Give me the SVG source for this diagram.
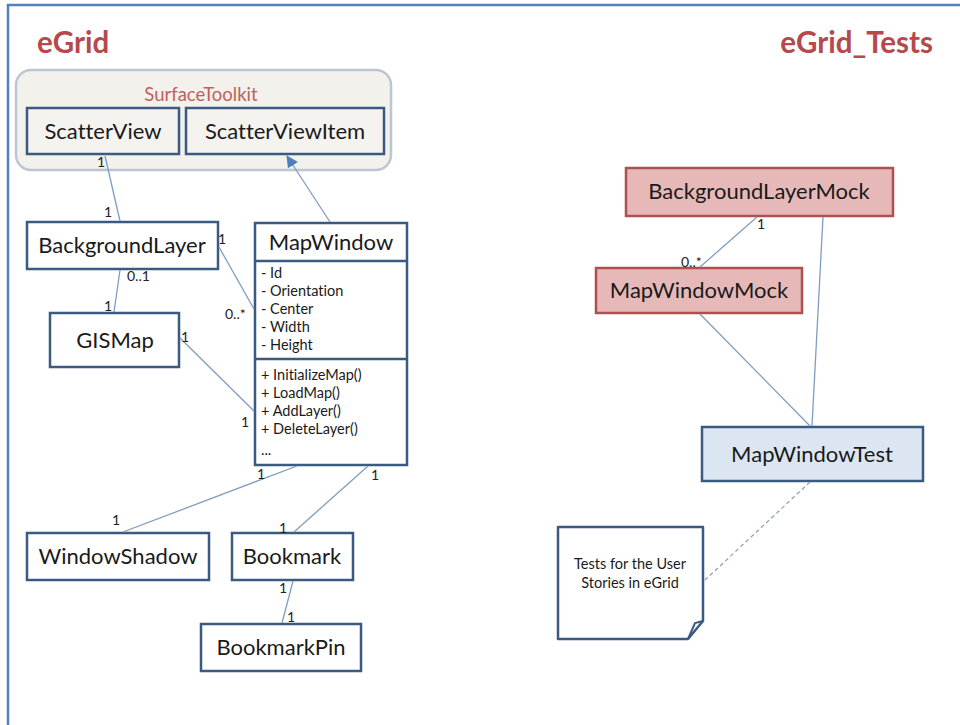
<svg xmlns="http://www.w3.org/2000/svg" width="960" height="725" viewBox="0 0 960 725">
  <defs>
    <style>
      text { font-family: Lato, "Open Sans", "Liberation Sans", sans-serif; fill: #1a1a1a; font-variant-ligatures: none; }
      .title { font-size: 29.5px; font-weight: bold; fill: #b5494b; }
      .pkg { font-size: 18.5px; fill: #c0605e; }
      .cls { fill: #ffffff; stroke: #3b5a80; stroke-width: 2.5; }
      .tk { fill: #f5f3ef; stroke: #3b5a80; stroke-width: 2.5; }
      .mock { fill: #e6b9b8; stroke: #b0504e; stroke-width: 2.5; }
      .test { fill: #dce6f2; stroke: #3b5a80; stroke-width: 2.5; }
      .name { font-size: 22px; text-anchor: middle; }
      .member { font-size: 14.5px; }
      .mult { font-size: 14px; fill: #222222; }
      .link { stroke: #7f9dc2; stroke-width: 1.3; fill: none; }
      .dash { stroke: #8fa3c0; stroke-width: 1.3; stroke-dasharray: 4 3; fill: none; }
    </style>
    <marker id="tri" viewBox="0 0 12 12" refX="11" refY="6" markerWidth="12" markerHeight="12" markerUnits="userSpaceOnUse" orient="auto">
      <path d="M0,0 L12,6 L0,12 Z" fill="#4f7fba"/>
    </marker>
  </defs>

  <rect width="960" height="725" fill="#ffffff"/>
  <!-- frame -->
  <path d="M8,725 V5 H960" fill="none" stroke="#4f81bd" stroke-width="2.5"/>

  <text class="title" x="37" y="53">eGrid</text>
  <text class="title" x="933" y="53" text-anchor="end">eGrid_Tests</text>

  <!-- SurfaceToolkit package -->
  <g id="SurfaceToolkit">
    <rect x="16" y="70" width="375" height="100" rx="15" fill="#f3f1ec" stroke="#bcc6d2" stroke-width="2.5"/>
    <text class="pkg" x="201" y="101" text-anchor="middle">SurfaceToolkit</text>
  </g>
  <g id="ScatterView">
    <rect class="tk" x="27" y="108" width="152" height="46"/>
    <text class="name" x="103" y="139">ScatterView</text>
  </g>
  <g id="ScatterViewItem">
    <rect class="tk" x="186" y="108" width="198" height="46"/>
    <text class="name" x="285" y="139">ScatterViewItem</text>
  </g>

  <g id="BackgroundLayer">
    <rect class="cls" x="27" y="222" width="191" height="47"/>
    <text class="name" x="122" y="253">BackgroundLayer</text>
  </g>

  <g id="MapWindow">
    <rect class="cls" x="255" y="223" width="152" height="242"/>
    <line x1="255" y1="261" x2="407" y2="261" stroke="#3b5a80" stroke-width="2.5"/>
    <line x1="255" y1="359" x2="407" y2="359" stroke="#3b5a80" stroke-width="2.5"/>
    <text class="name" x="331" y="250">MapWindow</text>
    <text class="member" x="261" y="278">- Id</text>
    <text class="member" x="261" y="296">- Orientation</text>
    <text class="member" x="261" y="314">- Center</text>
    <text class="member" x="261" y="332">- Width</text>
    <text class="member" x="261" y="350">- Height</text>
    <text class="member" x="261" y="380">+ InitializeMap()</text>
    <text class="member" x="261" y="398">+ LoadMap()</text>
    <text class="member" x="261" y="416">+ AddLayer()</text>
    <text class="member" x="261" y="434">+ DeleteLayer()</text>
    <text class="member" x="261" y="455">...</text>
  </g>

  <g id="GISMap">
    <rect class="cls" x="50" y="313" width="129" height="54"/>
    <text class="name" x="115" y="348">GISMap</text>
  </g>

  <g id="WindowShadow">
    <rect class="cls" x="27" y="533" width="182" height="47"/>
    <text class="name" x="118" y="564">WindowShadow</text>
  </g>

  <g id="Bookmark">
    <rect class="cls" x="232" y="533" width="121" height="47"/>
    <text class="name" x="292" y="564">Bookmark</text>
  </g>

  <g id="BookmarkPin">
    <rect class="cls" x="201" y="624" width="160" height="47"/>
    <text class="name" x="281" y="655">BookmarkPin</text>
  </g>

  <g id="BackgroundLayerMock">
    <rect class="mock" x="626" y="168" width="267" height="48"/>
    <text class="name" x="759" y="199">BackgroundLayerMock</text>
  </g>

  <g id="MapWindowMock">
    <rect class="mock" x="596" y="268" width="206" height="45"/>
    <text class="name" x="699" y="298">MapWindowMock</text>
  </g>

  <g id="MapWindowTest">
    <rect class="test" x="702" y="427" width="221" height="54"/>
    <text class="name" x="812" y="462">MapWindowTest</text>
  </g>

  <g id="Note">
    <path d="M558,527 H703 V621 L688,639 H558 Z" fill="#ffffff" stroke="#3b5a80" stroke-width="2.5" stroke-linejoin="round"/>
    <path d="M703,621 L695,623 L688,639" fill="none" stroke="#3b5a80" stroke-width="2"/>
    <text x="630" y="569" font-size="14.5" text-anchor="middle">Tests for the User</text>
    <text x="630" y="588" font-size="14.5" text-anchor="middle">Stories in eGrid</text>
  </g>

  <!-- connectors, drawn above the package background -->
  <g id="connectors">
    <line class="link" x1="105" y1="156" x2="120" y2="221"/>
    <line class="link" x1="330" y1="222" x2="287" y2="156" marker-end="url(#tri)"/>
    <line class="link" x1="120" y1="270" x2="114" y2="312"/>
    <line class="link" x1="219" y1="247" x2="254" y2="309"/>
    <line class="link" x1="180" y1="338" x2="254" y2="411"/>
    <line class="link" x1="297" y1="466" x2="123" y2="532"/>
    <line class="link" x1="368" y1="466" x2="294" y2="532"/>
    <line class="link" x1="293" y1="581" x2="282" y2="623"/>
    <line class="link" x1="757" y1="217" x2="700" y2="267"/>
    <line class="link" x1="823" y1="217" x2="812" y2="426"/>
    <line class="link" x1="700" y1="314" x2="810" y2="426"/>
    <line class="dash" x1="810" y1="482" x2="705" y2="580"/>

    <text class="mult" x="97" y="167">1</text>
    <text class="mult" x="104" y="217">1</text>
    <text class="mult" x="127" y="281">0..1</text>
    <text class="mult" x="104" y="311">1</text>
    <text class="mult" x="218" y="244">1</text>
    <text class="mult" x="225" y="319">0..*</text>
    <text class="mult" x="181" y="342">1</text>
    <text class="mult" x="241" y="427">1</text>
    <text class="mult" x="257" y="479">1</text>
    <text class="mult" x="371" y="480">1</text>
    <text class="mult" x="112" y="525">1</text>
    <text class="mult" x="279" y="533">1</text>
    <text class="mult" x="279" y="593">1</text>
    <text class="mult" x="287" y="622">1</text>
    <text class="mult" x="757" y="229">1</text>
    <text class="mult" x="681" y="267">0..*</text>
  </g>
</svg>
